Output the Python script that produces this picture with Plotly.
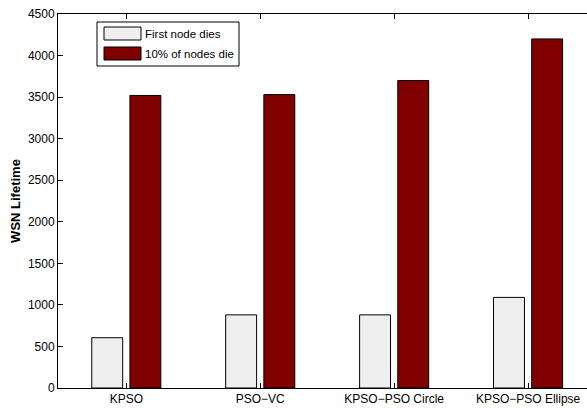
import plotly.graph_objects as go

# Network lifetime per deployment algorithm
algorithms = ["KPSO", "PSO\u2212VC", "KPSO\u2212PSO Circle", "KPSO\u2212PSO Ellipse"]
first_node_dies = [605, 880, 880, 1090]
ten_pct_nodes_die = [3520, 3530, 3700, 4200]
series_names = ["First node dies", "10% of nodes die"]
series_colors = ["#efefef", "#800000"]
y_ticks = [0, 500, 1000, 1500, 2000, 2500, 3000, 3500, 4000, 4500]

FONT = "Liberation Sans, Arial, Helvetica, sans-serif"

fig = go.Figure()
for name, vals, col in zip(series_names, [first_node_dies, ten_pct_nodes_die], series_colors):
    fig.add_trace(go.Bar(
        x=algorithms, y=vals, name=name,
        marker=dict(color=col, line=dict(color="black", width=1)),
        showlegend=False,
    ))

fig.update_layout(
    width=587, height=408,
    margin=dict(l=58, r=0, t=14, b=20),
    paper_bgcolor="white", plot_bgcolor="white",
    barmode="group", bargap=0.43, bargroupgap=0.19,
    font=dict(family=FONT, size=12, color="black"),
)
fig.update_xaxes(
    type="category", range=[-0.51, 3.44],
    showline=True, linecolor="black", linewidth=1, mirror="ticks",
    ticks="inside", ticklen=5, tickcolor="black",
    showgrid=False, zeroline=False,
    tickfont=dict(family=FONT, size=12, color="black"),
)
fig.update_yaxes(
    range=[0, 4500], tickvals=y_ticks,
    showline=True, linecolor="black", linewidth=1,
    ticks="inside", ticklen=5, tickcolor="black",
    showgrid=False, zeroline=False,
    tickfont=dict(family=FONT, size=12, color="black"),
    title=dict(text="<b>WSN Lifetime</b>", font=dict(family=FONT, size=13, color="black"), standoff=4),
)

# Legend box with wide swatches
def px_x(p):
    return (p - 58) / 529.0

def px_y(p):
    return (388 - p) / 374.0

fig.add_shape(type="rect", xref="paper", yref="paper",
              x0=px_x(97), x1=px_x(239), y0=px_y(66), y1=px_y(22),
              line=dict(color="black", width=1), fillcolor="white", layer="above")
for i, (name, col) in enumerate(zip(series_names, series_colors)):
    top = 27 + 20 * i
    fig.add_shape(type="rect", xref="paper", yref="paper",
                  x0=px_x(104), x1=px_x(141), y0=px_y(top + 13), y1=px_y(top),
                  line=dict(color="black", width=1), fillcolor=col, layer="above")
    fig.add_annotation(xref="paper", yref="paper", x=px_x(143), y=px_y(top + 7),
                       text=name, showarrow=False, xanchor="left", yanchor="middle",
                       font=dict(family=FONT, size=11.5, color="black"))

fig.write_html("out.html")
